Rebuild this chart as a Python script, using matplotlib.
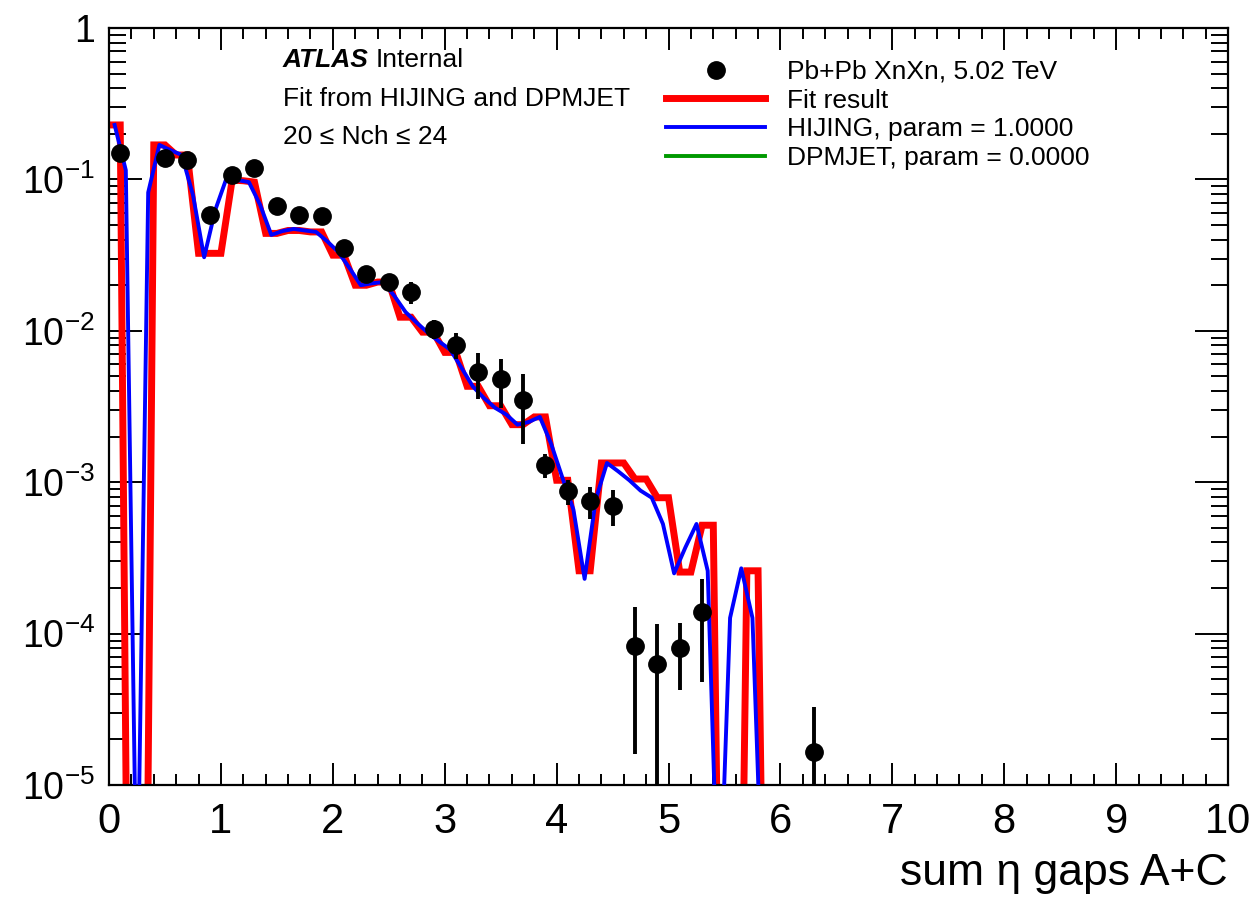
import matplotlib
matplotlib.use("Agg")
import matplotlib.pyplot as plt
import numpy as np
from matplotlib.lines import Line2D
from matplotlib.ticker import FuncFormatter, LogLocator, MultipleLocator

plt.rcParams["font.family"] = ["Liberation Sans", "DejaVu Sans"]
plt.rcParams["mathtext.fontset"] = "custom"
plt.rcParams["mathtext.rm"] = "Liberation Sans"
plt.rcParams["mathtext.it"] = "Liberation Sans:italic"

# data: Pb+Pb XnXn, 0.2-wide bins of summed eta gap
data_x = [0.1, 0.5, 0.7, 0.9, 1.1, 1.3, 1.5, 1.7, 1.9, 2.1, 2.3, 2.5, 2.7, 2.9,
          3.1, 3.3, 3.5, 3.7, 3.9, 4.1, 4.3, 4.5, 4.7, 4.9, 5.1, 5.3, 6.3]
data_y = [0.149, 0.138, 0.134, 0.058, 0.107, 0.119, 0.0667, 0.058, 0.057, 0.0352,
          0.0237, 0.0210, 0.018, 0.0103, 0.0081, 0.00534, 0.0048, 0.0035, 0.0013,
          0.00087, 0.00075, 0.0007, 8.3e-5, 6.3e-5, 8.0e-5, 1.39e-4, 1.65e-5]
data_err = [0.004, 0.004, 0.004, 0.0025, 0.004, 0.004, 0.003, 0.003, 0.003, 0.0025,
            0.002, 0.002, 0.003, 0.0015, 0.0016, 0.0018, 0.0017, 0.0017, 0.00023,
            0.00016, 0.00018, 0.00019, 6.7e-5, 5.3e-5, 3.75e-5, 9.1e-5, 1.62e-5]

# fit result, one point every 0.1 starting at 0
fit_x = np.round(np.arange(0.0, 6.0, 0.1), 2)
fit_vals = [0.229, 0.229, 0.0, 0.0, 0.169, 0.169, 0.145, 0.145, 0.0325, 0.0325,
            0.0325, 0.099, 0.098, 0.096, 0.044, 0.044, 0.046, 0.046, 0.045, 0.045,
            0.0316, 0.0316, 0.020, 0.020, 0.021, 0.021, 0.0123, 0.0123, 0.0098, 0.0098,
            0.0072, 0.0072, 0.0043, 0.0043, 0.0032, 0.0032, 0.0024, 0.0024, 0.0027, 0.0027,
            0.00103, 0.00103, 0.00026, 0.00026, 0.00134, 0.00134, 0.00134, 0.00105,
            0.00105, 0.00079, 0.00079, 0.000255, 0.000255, 0.00052, 0.00052, 0.0, 0.0,
            0.00026, 0.00026, 0.0]

# HIJING template, 0.1-wide bins, drawn through bin centres
hijing_x = np.round(np.arange(0.05, 6.0, 0.1), 2)
hijing_vals = [0.229, 0.115, 0.0, 0.082, 0.169, 0.156, 0.145, 0.079, 0.0306, 0.063,
               0.102, 0.099, 0.096, 0.068, 0.043, 0.0456, 0.0471, 0.046, 0.045, 0.039,
               0.0331, 0.0259, 0.020, 0.0206, 0.021, 0.0170, 0.0133, 0.0113, 0.0097,
               0.0085, 0.0075, 0.0057, 0.0043, 0.0036, 0.0031, 0.0028, 0.0024, 0.0025,
               0.0027, 0.0018, 0.00108, 0.00066, 0.00023, 0.00077, 0.00134, 0.00118,
               0.00103, 0.00088, 0.00079, 0.00053, 0.00025, 0.00037, 0.00053, 0.00026,
               0.0, 0.000127, 0.00027, 0.000127, 0.0, 0.0]
hijing_param = 1.0
dpmjet_param = 0.0


def floored(vals, floor):
    # empty bins fall off the bottom of the log axis
    v = np.asarray(vals, dtype=float)
    return np.where(v > 0, v, floor)


fig = plt.figure(figsize=(12.59, 9.19), dpi=100)
ax = fig.add_axes([0.0866, 0.1458, 0.8888, 0.8237])

ax.plot(fit_x, floored(fit_vals, 1e-9), color="#ff0000", lw=5.0,
        solid_joinstyle="miter", zorder=2)
ax.plot(hijing_x, floored(np.asarray(hijing_vals) * hijing_param, 1e-6),
        color="#0000ff", lw=2.8, zorder=3)
ax.errorbar(data_x, data_y, yerr=data_err, fmt="o", color="black", ms=12.5,
            elinewidth=2.8, capsize=0, zorder=4)

ax.set_xlim(0, 10)
ax.set_yscale("log")
ax.set_ylim(1e-5, 1)

ax.xaxis.set_major_locator(MultipleLocator(1))
ax.xaxis.set_minor_locator(MultipleLocator(0.2))
ax.yaxis.set_major_locator(LogLocator(base=10, numticks=10))
ax.yaxis.set_minor_locator(LogLocator(base=10, subs=np.arange(2, 10), numticks=20))


def log_label(v, _pos):
    if np.isclose(v, 1):
        return "1"
    return r"$10^{%d}$" % int(round(np.log10(v)))


ax.yaxis.set_major_formatter(FuncFormatter(log_label))
ax.yaxis.set_minor_formatter(FuncFormatter(lambda v, p: ""))

ax.tick_params(which="both", direction="in", top=True, right=True, width=1.4,
               colors="black")
ax.tick_params(axis="x", which="major", length=16, labelsize=30, pad=12)
ax.tick_params(axis="x", which="minor", length=8)
ax.tick_params(axis="y", which="major", length=24, labelsize=27, pad=10)
ax.tick_params(axis="y", which="minor", length=12)
for sp in ax.spines.values():
    sp.set_linewidth(1.6)

fig.text(0.9754, 1 - 873 / 919, "sum η gaps A+C", ha="right", va="center",
         fontsize=32)

ax.text(0.1555, 0.958, "ATLAS", transform=ax.transAxes, fontsize=19,
        fontweight="bold", fontstyle="italic", va="center")
ax.text(0.2386, 0.958, "Internal", transform=ax.transAxes, fontsize=19, va="center")
ax.text(0.1555, 0.906, "Fit from HIJING and DPMJET", transform=ax.transAxes,
        fontsize=19, va="center")
ax.text(0.1555, 0.856, "20 ≤ Nch ≤ 24", transform=ax.transAxes, fontsize=19,
        va="center")

handles = [
    Line2D([], [], ls="none", marker="o", color="black", ms=12.5),
    Line2D([], [], color="#ff0000", lw=5.0),
    Line2D([], [], color="#0000ff", lw=2.8),
    Line2D([], [], color="#009900", lw=2.8),
]
labels = [
    "Pb+Pb XnXn, 5.02 TeV",
    "Fit result",
    "HIJING, param = %.4f" % hijing_param,
    "DPMJET, param = %.4f" % dpmjet_param,
]
ax.legend(handles, labels, loc="upper left", bbox_to_anchor=(0.498, 0.958),
          frameon=False, fontsize=19, handlelength=3.75, handletextpad=0.83,
          labelspacing=0.18, borderpad=0, borderaxespad=0)

fig.savefig("out.png", dpi=100)
